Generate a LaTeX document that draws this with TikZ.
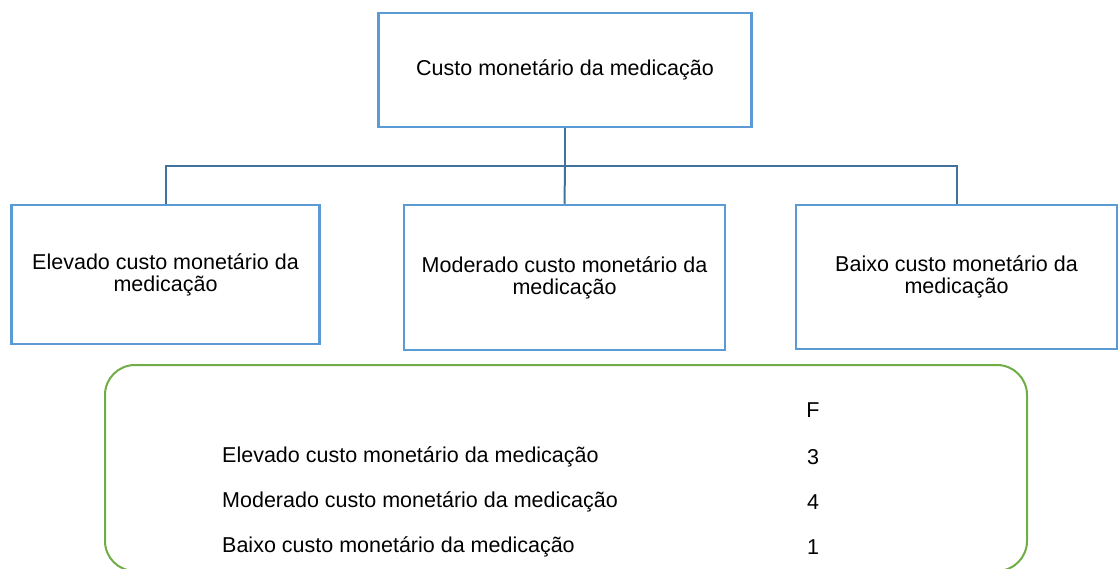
\documentclass[tikz,border=0pt]{standalone}
\usepackage{fontspec}
\setmainfont{Liberation Sans}
\usetikzlibrary{calc}

\definecolor{boxblue}{HTML}{5B9BD5}
\definecolor{lineblue}{HTML}{41719C}
\definecolor{framegreen}{HTML}{70AD47}

\tikzset{
	costbox/.style={draw=boxblue,line width=2.5pt,fill=white,align=center,inner sep=0pt},
	branch/.style={draw=lineblue,line width=2pt},
	rowtext/.style={anchor=west,inner sep=0pt},
	freqtext/.style={inner sep=0pt}
}

\begin{document}
\begin{tikzpicture}[x=1pt,y=1pt,font=\fontsize{21.5}{22}\selectfont]
	\useasboundingbox (0,0) rectangle (1118,-569);
	\clip (0,0) rectangle (1118,-569);
	
	%top box
	\node[costbox,minimum width=373pt,minimum height=114pt] (cost) at (565,-70) {Custo monetário da medicação};
	
	%level boxes
	\node[costbox,minimum width=308pt,minimum height=139pt] (high) at (165.5,-274.5) {Elevado custo monetário da\\medicação};
	\node[costbox,minimum width=321pt,minimum height=145pt] (moderate) at (564.5,-277.5) {Moderado custo monetário da\\medicação};
	\node[costbox,minimum width=321pt,minimum height=144pt] (low) at (956.5,-277) {Baixo custo monetário da\\medicação};
	
	%connectors
	\coordinate (bus) at ($(cost.south)+(0,-38)$);
	\draw[branch] (cost.south) -- (bus);
	\draw[branch] (bus) -| (high.north);
	\draw[branch] (bus) -- (moderate.north);
	\draw[branch] (bus) -| (low.north);
	
	%frequency frame
	\node[draw=framegreen,line width=2pt,rounded corners=30pt,minimum width=922pt,minimum height=206pt,inner sep=0pt] (freq) at (566,-468) {};
	
	%frequency rows
	\node[freqtext] (fhead) at (813,-410) {F};
	\node[rowtext] (rhigh) at (222,-457) {Elevado custo monetário da medicação};
	\node[rowtext] (rmod) at (222,-502) {Moderado custo monetário da medicação};
	\node[rowtext] (rlow) at (222,-547) {Baixo custo monetário da medicação};
		\node[freqtext] (fhigh) at (813,-457) {3};
		\node[freqtext] (fmod) at (813,-502) {4};
		\node[freqtext] (flow) at (813,-547) {1};
\end{tikzpicture}
\end{document}
